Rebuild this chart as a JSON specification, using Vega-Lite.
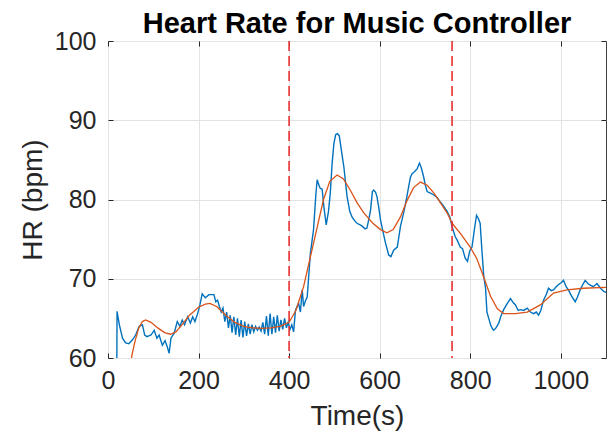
{
"$schema": "https://vega.github.io/schema/vega-lite/v6.json",
"width": 498, "height": 317,
"autosize": "none",
"padding": {"left": 108, "top": 41, "right": 5, "bottom": 81},
"background": "white",
"title": {"text": "Heart Rate for Music Controller", "fontSize": 29, "font": "Liberation Sans", "fontWeight": "bold", "color": "#000000", "anchor": "middle", "offset": -10},
"config": {"view": {"stroke": "#404040", "strokeWidth": 1}},
"datasets": {
"raw": [
{"t":19.5,"hr":59.5},{"t":20,"hr":65.9},{"t":25,"hr":64.2},{"t":32,"hr":62.5},{"t":39,"hr":61.9},{"t":46,"hr":61.8},{"t":54,"hr":62.3},{"t":61,"hr":62.9},{"t":69,"hr":64.0},{"t":76,"hr":64.2},{"t":81,"hr":62.9},{"t":86,"hr":62.7},{"t":95,"hr":62.9},{"t":102,"hr":63.5},{"t":108,"hr":62.5},{"t":113,"hr":62.9},{"t":120,"hr":61.6},{"t":126,"hr":62.2},{"t":131,"hr":61.4},{"t":135,"hr":60.6},{"t":139,"hr":62.5},{"t":146,"hr":63.1},{"t":153,"hr":64.6},{"t":159,"hr":64.0},{"t":164,"hr":64.8},{"t":169,"hr":64.2},{"t":176,"hr":65.2},{"t":182,"hr":64.4},{"t":187,"hr":65.2},{"t":192,"hr":64.6},{"t":198,"hr":65.6},{"t":203,"hr":66.7},{"t":208,"hr":68.1},{"t":215,"hr":67.6},{"t":223,"hr":68.0},{"t":234,"hr":68.0},{"t":238,"hr":67.1},{"t":242,"hr":67.3},{"t":246,"hr":66.5},
{"t":250,"hr":65.8},{"t":254,"hr":66.3},{"t":258,"hr":64.6},{"t":262,"hr":65.8},{"t":266,"hr":63.8},{"t":270,"hr":65.4},{"t":274,"hr":63.2},{"t":278,"hr":65.2},{"t":282,"hr":62.9},{"t":286,"hr":65.0},{"t":290,"hr":62.7},{"t":294,"hr":64.8},{"t":298,"hr":62.6},{"t":302,"hr":64.6},{"t":306,"hr":62.8},{"t":310,"hr":64.3},{"t":314,"hr":63.0},{"t":318,"hr":64.2},{"t":322,"hr":63.3},{"t":326,"hr":64.0},{"t":330,"hr":63.5},{"t":334,"hr":63.9},{"t":338,"hr":63.4},{"t":342,"hr":64.5},{"t":346,"hr":63.0},{"t":350,"hr":65.3},{"t":354,"hr":62.8},{"t":358,"hr":65.6},{"t":362,"hr":63.0},{"t":366,"hr":65.2},{"t":370,"hr":63.2},{"t":374,"hr":65.4},{"t":378,"hr":63.4},{"t":382,"hr":64.8},{"t":386,"hr":63.6},{"t":390,"hr":65.0},{"t":394,"hr":63.8},{"t":398,"hr":64.5},{"t":402,"hr":63.6},{"t":406,"hr":64.2},{"t":410,"hr":63.3},
{"t":414,"hr":66.0},{"t":421,"hr":66.9},{"t":425,"hr":65.8},{"t":429,"hr":68.6},{"t":432,"hr":66.5},{"t":436,"hr":67.2},{"t":440,"hr":67.7},{"t":447,"hr":73.2},{"t":454,"hr":76.2},{"t":459,"hr":80.5},{"t":462,"hr":82.5},{"t":466,"hr":81.8},{"t":469,"hr":81.4},{"t":473,"hr":81.3},{"t":477,"hr":79.0},{"t":482,"hr":76.8},{"t":487,"hr":78.5},{"t":491,"hr":80.8},{"t":495,"hr":84.5},{"t":499,"hr":87.1},{"t":503,"hr":88.2},{"t":507,"hr":88.3},{"t":511,"hr":88.0},{"t":516,"hr":86.0},{"t":521,"hr":84.1},{"t":528,"hr":80.4},{"t":534,"hr":78.5},{"t":539,"hr":77.8},{"t":545,"hr":77.3},{"t":550,"hr":77.0},{"t":560,"hr":76.7},{"t":568,"hr":76.3},{"t":572,"hr":76.4},{"t":576,"hr":77.5},{"t":580,"hr":78.7},{"t":584,"hr":81.0},{"t":587,"hr":81.2},{"t":591,"hr":80.9},{"t":594,"hr":80.4},{"t":598,"hr":79.0},{"t":602,"hr":77.4},{"t":608,"hr":75.8},{"t":613,"hr":74.5},{"t":620,"hr":73.0},{"t":625,"hr":72.8},{"t":631,"hr":73.6},{"t":639,"hr":74.0},{"t":646,"hr":76.6},{"t":653,"hr":78.3},{"t":659,"hr":80.0},{"t":664,"hr":81.6},{"t":668,"hr":82.8},{"t":672,"hr":83.3},{"t":677,"hr":83.5},{"t":683,"hr":83.9},{"t":688,"hr":84.6},{"t":692,"hr":84.0},{"t":697,"hr":82.9},{"t":701,"hr":81.8},{"t":705,"hr":81.0},{"t":712,"hr":80.8},{"t":719,"hr":80.6},{"t":726,"hr":80.3},{"t":734,"hr":79.7},{"t":741,"hr":79.2},{"t":749,"hr":78.5},{"t":755,"hr":77.8},{"t":760,"hr":76.6},{"t":767,"hr":75.3},{"t":771,"hr":74.9},{"t":778,"hr":74.0},{"t":783,"hr":73.8},{"t":789,"hr":72.6},{"t":794,"hr":72.2},{"t":799,"hr":73.5},{"t":804,"hr":74.0},{"t":810,"hr":76.5},{"t":814,"hr":78.0},{"t":818,"hr":77.6},{"t":822,"hr":77.0},{"t":826,"hr":73.5},{"t":830,"hr":70.3},{"t":834,"hr":68.8},{"t":837,"hr":65.8},{"t":841,"hr":65.0},{"t":845,"hr":64.2},{"t":849,"hr":63.7},{"t":852,"hr":63.5},{"t":857,"hr":63.8},{"t":863,"hr":64.4},{"t":868,"hr":65.3},{"t":874,"hr":66.1},{"t":880,"hr":66.7},{"t":889,"hr":67.5},{"t":895,"hr":67.0},{"t":900,"hr":66.7},{"t":906,"hr":66.0},{"t":911,"hr":66.1},{"t":918,"hr":66.0},{"t":926,"hr":66.3},{"t":933,"hr":65.8},{"t":940,"hr":65.6},{"t":946,"hr":65.8},{"t":951,"hr":65.4},{"t":956,"hr":66.0},{"t":962,"hr":67.3},{"t":968,"hr":68.0},{"t":973,"hr":68.8},{"t":979,"hr":68.5},{"t":984,"hr":68.6},{"t":990,"hr":69.0},{"t":996,"hr":69.3},{"t":1001,"hr":69.5},{"t":1006,"hr":69.8},{"t":1012,"hr":69.0},{"t":1017,"hr":68.6},{"t":1024,"hr":67.8},{"t":1032,"hr":67.1},{"t":1037,"hr":67.7},{"t":1043,"hr":68.6},{"t":1049,"hr":69.3},{"t":1054,"hr":69.8},{"t":1060,"hr":69.4},{"t":1065,"hr":69.2},{"t":1072,"hr":69.0},{"t":1080,"hr":69.4},{"t":1088,"hr":68.8},{"t":1095,"hr":68.4},{"t":1100,"hr":68.3}
],
"fit": [
{"t":50,"hr":59.3},{"t":53,"hr":60.4},{"t":60,"hr":62.2},{"t":68,"hr":63.8},{"t":76,"hr":64.6},{"t":83,"hr":64.8},{"t":95,"hr":64.5},{"t":110,"hr":63.8},{"t":125,"hr":63.2},{"t":138,"hr":63.0},{"t":150,"hr":63.3},{"t":165,"hr":64.3},{"t":180,"hr":65.4},{"t":200,"hr":66.4},{"t":215,"hr":66.8},{"t":225,"hr":66.9},{"t":240,"hr":66.5},{"t":260,"hr":65.4},{"t":280,"hr":64.5},{"t":300,"hr":64.0},{"t":320,"hr":63.8},{"t":340,"hr":63.75},{"t":360,"hr":63.8},{"t":380,"hr":64.0},{"t":400,"hr":64.5},{"t":415,"hr":66.0},{"t":432,"hr":69.0},{"t":454,"hr":74.5},{"t":476,"hr":80.0},{"t":490,"hr":82.3},{"t":506,"hr":83.1},{"t":520,"hr":82.6},{"t":535,"hr":81.2},{"t":550,"hr":79.6},{"t":565,"hr":78.3},{"t":585,"hr":77.0},{"t":602,"hr":76.2},{"t":616,"hr":75.8},{"t":630,"hr":76.2},{"t":646,"hr":77.8},{"t":660,"hr":79.8},{"t":675,"hr":81.5},{"t":690,"hr":82.2},{"t":705,"hr":81.8},{"t":720,"hr":80.8},{"t":734,"hr":79.6},{"t":750,"hr":78.2},{"t":760,"hr":77.0},{"t":780,"hr":75.6},{"t":800,"hr":74.0},{"t":815,"hr":72.5},{"t":830,"hr":70.2},{"t":845,"hr":67.8},{"t":860,"hr":66.2},{"t":874,"hr":65.6},{"t":900,"hr":65.6},{"t":926,"hr":65.8},{"t":955,"hr":66.7},{"t":984,"hr":68.2},{"t":1014,"hr":68.6},{"t":1050,"hr":68.8},{"t":1100,"hr":68.9}
],
"vlines": [{"t":400},{"t":760}]
},
"layer": [
{"data": {"name": "raw"}, "mark": {"type": "line", "color": "#0072BD", "strokeWidth": 1.4, "clip": true},
 "encoding": {
  "x": {"field": "t", "type": "quantitative", "scale": {"domain": [0, 1100], "nice": false},
   "axis": {"values": [0,200,400,600,800,1000], "format": "d", "title": "Time(s)", "grid": true, "gridColor": "#e3e3e3", "domain": false, "tickSize": -5, "tickColor": "#262626", "labelFont": "Liberation Sans", "labelFontSize": 25, "labelColor": "#262626", "labelPadding": 15, "titleFont": "Liberation Sans", "titleFontSize": 28, "titleFontWeight": "normal", "titleColor": "#262626", "titlePadding": 9, "labelFlush": false}},
  "y": {"field": "hr", "type": "quantitative", "scale": {"domain": [60, 100], "nice": false, "zero": false},
   "axis": {"values": [60,70,80,90,100], "title": "HR (bpm)", "grid": true, "gridColor": "#e3e3e3", "domain": false, "tickSize": -5, "tickColor": "#262626", "labelFont": "Liberation Sans", "labelFontSize": 25, "labelColor": "#262626", "labelPadding": 17, "titleFont": "Liberation Sans", "titleFontSize": 28, "titleFontWeight": "normal", "titleColor": "#262626", "titlePadding": 7, "labelFlush": false}}
 }},
{"data": {"name": "fit"}, "mark": {"type": "line", "color": "#D95319", "strokeWidth": 1.3, "clip": true},
 "encoding": {
  "x": {"field": "t", "type": "quantitative", "axis": {"orient": "top", "values": [0,200,400,600,800,1000], "labels": false, "title": null, "grid": false, "domain": false, "tickSize": -5, "tickColor": "#262626"}},
  "y": {"field": "hr", "type": "quantitative", "axis": {"orient": "right", "values": [60,70,80,90,100], "labels": false, "title": null, "grid": false, "domain": false, "tickSize": -5, "tickColor": "#262626"}}
 }},
{"data": {"name": "vlines"}, "mark": {"type": "rule", "color": "#E8312F", "strokeWidth": 1.6, "strokeDash": [10, 5]},
 "encoding": {"x": {"field": "t", "type": "quantitative", "axis": null}}}
],
"resolve": {"axis": {"x": "independent", "y": "independent"}}
}
